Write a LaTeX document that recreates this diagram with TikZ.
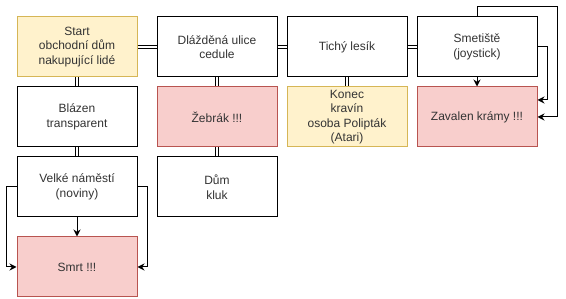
\documentclass[tikz,border=0pt]{standalone}
\usepackage{fontspec}
\setmainfont{Liberation Sans}
\usepackage{xcolor}
\usetikzlibrary{arrows.meta, calc}

\definecolor{yelfill}{HTML}{FFF2CC}
\definecolor{yeldraw}{HTML}{D6B656}
\definecolor{redfill}{HTML}{F8CECC}
\definecolor{reddraw}{HTML}{B85450}

\begin{document}
\begin{tikzpicture}[x=1pt, y=-1pt]
    % Define styles
    \tikzstyle{place} = [rectangle, draw=black, fill=white, line width=1pt, minimum width=120pt, minimum height=60pt, inner sep=0pt, align=center, text=black!80, font=\fontsize{12}{14.5}\selectfont]
    \tikzstyle{startplace} = [place, draw=yeldraw, fill=yelfill]
    \tikzstyle{deadplace} = [place, draw=reddraw, fill=redfill]
    \tikzstyle{link} = [line width=1pt, double=white, double distance=2pt]
    \tikzstyle{arrow} = [-{Stealth[length=7pt, width=7pt]}, line width=1pt]

    \useasboundingbox (0,0) rectangle (566,299);

    % Top row
    \node[startplace] (start) at (77, 47) {Start\\obchodní dům\\nakupující lidé};
    \node[place] (ulice) at (217, 47) {Dlážděná ulice\\cedule};
    \node[place] (lesik) at (347, 47) {Tichý lesík};
    \node[place] (smetiste) at (477, 47) {Smetiště\\(joystick)};

    % Second row
    \node[place] (blazen) at (77, 117) {Blázen\\transparent};
    \node[deadplace] (zebrak) at (217, 117) {Žebrák !!!};
    \node[startplace] (konec) at (347, 117) {Konec\\kravín\\osoba Polipták\\(Atari)};
    \node[deadplace] (zavalen) at (477, 117) {Zavalen krámy !!!};

    % Lower rows
    \node[place] (namesti) at (77, 187) {Velké náměstí\\(noviny)};
    \node[place] (dum) at (217, 187) {Dům\\kluk};
    \node[deadplace] (smrt) at (77, 267) {Smrt !!!};

    % Links
    \draw[link] (start) -- (ulice);
    \draw[link] (ulice) -- (lesik);
    \draw[link] (lesik) -- (smetiste);
    \draw[link] (start) -- (blazen);
    \draw[link] (blazen) -- (namesti);
    \draw[link] (ulice) -- (zebrak);
    \draw[link] (zebrak) -- (dum);
    \draw[link] (lesik) -- (konec);

    % Arrows
    \draw[arrow] (smetiste) -- (zavalen);
    \draw[arrow] (smetiste.east) -- ++(10,0) |- ($(zavalen.east)+(0,-17)$);
    \draw[arrow] (smetiste.north) -- ++(0,-10) -- ++(80,0) |- (zavalen.east);
    \draw[arrow] (namesti) -- (smrt);
    \draw[arrow] (namesti.west) -- ++(-10,0) |- (smrt.west);
    \draw[arrow] (namesti.east) -- ++(10,0) |- (smrt.east);

\end{tikzpicture}
\end{document}
